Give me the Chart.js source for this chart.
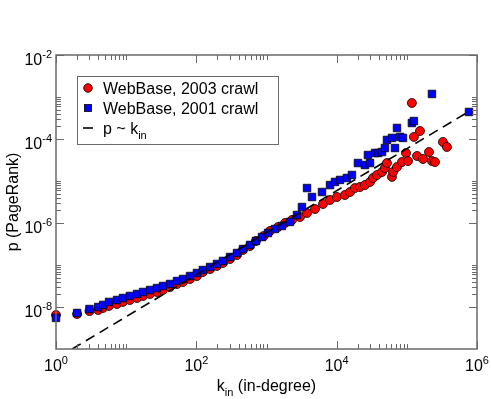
<!DOCTYPE html>
<html>
<head>
<meta charset="utf-8">
<script src="https://cdn.jsdelivr.net/npm/chart.js@4.4.1/dist/chart.umd.min.js"></script>
<style>
  html, body { margin: 0; padding: 0; background: #fff; }
  canvas { display: block; }
</style>
</head>
<body>
<canvas id="chart" width="491" height="399"></canvas>
<script>
// WebBase 2003 crawl (red circles)
const k2003 = [1, 2, 3, 4, 4.7, 5.7, 7.4, 9, 11.3, 14.3, 17.4, 21.9, 27.5, 33.5, 42.2,
  53, 64.6, 81.3, 102, 124, 157, 197, 240, 302, 380, 462, 582, 708, 912, 1120,
  1460, 1840, 2310, 3000, 3780, 4910, 6380, 8040, 10100, 13100, 15500, 18200, 21500, 25300, 29900,
  33000, 37600, 44300, 48800, 52100, 61400, 63500, 72400, 85300, 97200, 104000, 118000, 126000, 154000, 140000,
  170000, 207000, 228000, 252000, 327000, 373000];
const p2003 = [6.45e-9, 6.8e-9, 8.0e-9, 8.5e-9, 9.5e-9, 1.06e-8, 1.18e-8, 1.32e-8, 1.47e-8, 1.64e-8, 1.83e-8, 2.04e-8, 2.28e-8, 2.54e-8, 2.99e-8,
  3.53e-8, 3.94e-8, 4.64e-8, 5.47e-8, 6.8e-8, 8.0e-8, 9.5e-8, 1.12e-7, 1.39e-7, 1.73e-7, 2.28e-7, 2.83e-7, 3.73e-7, 4.9e-7, 6.45e-7,
  8.0e-7, 1.0e-6, 1.18e-6, 1.39e-6, 1.73e-6, 2.15e-6, 2.83e-6, 3.53e-6, 4.16e-6, 4.64e-6, 5.47e-6, 6.8e-6, 7.2e-6, 8.0e-6, 9.5e-6,
  1.18e-5, 1.39e-5, 1.64e-5, 2.04e-5, 2.68e-5, 1.25e-5, 1.64e-5, 2.15e-5, 2.83e-5, 4.64e-5, 2.99e-5, 7.2e-4, 1.12e-4, 1.55e-4, 3.94e-5,
  3.34e-5, 4.9e-5, 2.99e-5, 2.83e-5, 8.5e-5, 6.45e-5];

// WebBase 2001 crawl (blue squares)
const k2001 = [1, 2, 3, 4, 4.7, 5.7, 7.4, 9, 11.3, 14.3, 17.4, 21.9, 27.5, 33.5, 42.2,
  53, 64.6, 81.3, 102, 124, 157, 197, 240, 302, 380, 462, 582, 708, 863, 1050,
  1320, 1660, 2160, 2720, 3200, 3780, 4450, 6180, 8040, 9460, 11150, 14000, 16500, 20100, 25300,
  29900, 27900, 35200, 38800, 44300, 48800, 52100, 61400, 67800, 72400, 79900, 88100, 118000, 126000, 228000,
  769000];
const p2001 = [5.5e-9, 7.2e-9, 8.95e-9, 1.0e-8, 1.12e-8, 1.32e-8, 1.47e-8, 1.64e-8, 1.83e-8, 2.04e-8, 2.28e-8, 2.54e-8, 2.83e-8, 3.16e-8, 3.53e-8,
  4.16e-8, 4.64e-8, 5.47e-8, 6.45e-8, 7.6e-8, 8.96e-8, 1.06e-7, 1.25e-7, 1.55e-7, 1.93e-7, 2.4e-7, 3.0e-7, 3.73e-7, 4.64e-7, 5.78e-7,
  7.2e-7, 8.5e-7, 1.06e-6, 1.55e-6, 2.4e-6, 6.8e-6, 4.16e-6, 5.47e-6, 8.0e-6, 9.5e-6, 1.06e-5, 1.18e-5, 1.39e-5, 2.68e-5, 2.4e-5,
  2.68e-5, 4.16e-5, 4.64e-5, 4.64e-5, 4.9e-5, 6.1e-5, 9.5e-5, 1.06e-4, 6.1e-5, 1.83e-4, 1.12e-4, 1.06e-4, 2.4e-4, 2.68e-4, 1.18e-3,
  4.4e-4];

// p ~ k_in reference line (two end points)
const kLine = [1.7, 760000];
const pLine = [1.0e-9, 4.48e-4];

// axis ticks
const xTickExps = [0, 2, 4, 6];
const yTickExps = [-8, -6, -4, -2];
const minorSteps = [2, 3, 4, 5, 6, 7, 8, 9, 10];

const legendLabels = ["WebBase, 2003 crawl", "WebBase, 2001 crawl", "p ~ k"];

const FONT = '"Liberation Sans", Arial, Helvetica, sans-serif';
const AXIS_GRAY = "#6a6a6a";

function toPoints(ks, ps) {
  return ks.map((k, i) => ({ x: k, y: ps[i] }));
}

// "10" with a superscript exponent
function drawPow(ctx, x, baseY, exp, align) {
  const ex = String(exp);
  ctx.font = "16px " + FONT;
  const wBase = ctx.measureText("10").width;
  ctx.font = "11px " + FONT;
  const wExp = ctx.measureText(ex).width;
  const left = align === "center" ? x - (wBase + wExp) / 2 : x - wBase - wExp;
  ctx.textAlign = "left";
  ctx.textBaseline = "alphabetic";
  ctx.font = "16px " + FONT;
  ctx.fillText("10", left, baseY);
  ctx.font = "11px " + FONT;
  ctx.fillText(ex, left + wBase, baseY - 7);
}

const gracePlugin = {
  id: "grace",
  afterDraw(chart) {
    const { ctx, chartArea: a, scales: { x, y } } = chart;
    ctx.save();
    ctx.strokeStyle = AXIS_GRAY;
    ctx.lineWidth = 1;
    ctx.beginPath();
    xTickExps.forEach((e, i) => {
      const px = Math.round(x.getPixelForValue(Math.pow(10, e))) + 0.5;
      ctx.moveTo(px, a.bottom); ctx.lineTo(px, a.bottom - 8);
      ctx.moveTo(px, a.top); ctx.lineTo(px, a.top + 8);
      if (i < xTickExps.length - 1) {
        minorSteps.forEach(m => {
          const mx = Math.round(x.getPixelForValue(m * Math.pow(10, e))) + 0.5;
          ctx.moveTo(mx, a.bottom); ctx.lineTo(mx, a.bottom - 5);
          ctx.moveTo(mx, a.top); ctx.lineTo(mx, a.top + 5);
        });
      }
    });
    yTickExps.forEach((e, i) => {
      const py = Math.round(y.getPixelForValue(Math.pow(10, e))) + 0.5;
      ctx.moveTo(a.left, py); ctx.lineTo(a.left + 8, py);
      ctx.moveTo(a.right, py); ctx.lineTo(a.right - 8, py);
      if (i < yTickExps.length - 1) {
        minorSteps.forEach(m => {
          const my = Math.round(y.getPixelForValue(m * Math.pow(10, e))) + 0.5;
          ctx.moveTo(a.left, my); ctx.lineTo(a.left + 5, my);
          ctx.moveTo(a.right, my); ctx.lineTo(a.right - 5, my);
        });
      }
    });
    ctx.stroke();

    ctx.lineWidth = 1.5;
    ctx.strokeRect(a.left, a.top, a.right - a.left, a.bottom - a.top);

    // tick labels
    ctx.fillStyle = "#000";
    xTickExps.forEach(e => drawPow(ctx, x.getPixelForValue(Math.pow(10, e)), a.bottom + 22, e, "center"));
    yTickExps.forEach(e => drawPow(ctx, a.left - 4, y.getPixelForValue(Math.pow(10, e)) + 10, e, "right"));

    // x title: k_in (in-degree)
    ctx.font = "16px " + FONT;
    const wk = ctx.measureText("k").width;
    const wRest = ctx.measureText(" (in-degree)").width;
    ctx.font = "11px " + FONT;
    const wSub = ctx.measureText("in").width;
    let tx = (a.left + a.right) / 2 - (wk + wSub + wRest) / 2;
    ctx.textAlign = "left";
    ctx.font = "16px " + FONT;
    ctx.fillText("k", tx, 391);
    ctx.font = "11px " + FONT;
    ctx.fillText("in", tx + wk, 396);
    ctx.font = "16px " + FONT;
    ctx.fillText(" (in-degree)", tx + wk + wSub, 391);

    // y title
    ctx.save();
    ctx.translate(18, (a.top + a.bottom) / 2);
    ctx.rotate(-Math.PI / 2);
    ctx.textAlign = "center";
    ctx.fillText("p (PageRank)", 0, 0);
    ctx.restore();

    // legend
    ctx.fillStyle = "#fff";
    ctx.fillRect(77, 76, 201, 68);
    ctx.strokeStyle = AXIS_GRAY;
    ctx.lineWidth = 1;
    ctx.strokeRect(77.5, 76.5, 201, 68);

    ctx.lineWidth = 0.8;
    ctx.strokeStyle = "#000";
    ctx.fillStyle = "#ff0000";
    ctx.beginPath(); ctx.arc(88, 88, 4.3, 0, Math.PI * 2); ctx.fill(); ctx.stroke();
    ctx.fillStyle = "#0000ff";
    ctx.fillRect(84.5, 104.5, 7, 7); ctx.strokeRect(84.5, 104.5, 7, 7);
    ctx.lineWidth = 1.6;
    ctx.beginPath(); ctx.moveTo(83, 128); ctx.lineTo(93, 128); ctx.stroke();

    ctx.fillStyle = "#000";
    ctx.textBaseline = "alphabetic";
    ctx.font = "16px " + FONT;
    ctx.fillText(legendLabels[0], 103, 94);
    ctx.fillText(legendLabels[1], 103, 114);
    ctx.fillText(legendLabels[2], 103, 134);
    const wp = ctx.measureText(legendLabels[2]).width;
    ctx.font = "11px " + FONT;
    ctx.fillText("in", 103 + wp, 139);
    ctx.restore();
  }
};

new Chart(document.getElementById("chart"), {
  type: "scatter",
  data: {
    datasets: [
      {
        label: legendLabels[0],
        data: toPoints(k2003, p2003),
        pointStyle: "circle",
        pointRadius: 4.5,
        backgroundColor: "#ff0000",
        borderColor: "#000",
        borderWidth: 0.8,
        clip: false,
        order: 2
      },
      {
        label: legendLabels[1],
        data: toPoints(k2001, p2001),
        pointStyle: "rect",
        pointRadius: 5.3,
        backgroundColor: "#0000ff",
        borderColor: "#000",
        borderWidth: 0.8,
        clip: false,
        order: 1
      },
      {
        type: "line",
        label: legendLabels[2],
        data: toPoints(kLine, pLine),
        borderColor: "#000",
        borderWidth: 1.6,
        borderDash: [10, 6],
        pointRadius: 0,
        fill: false,
        order: 0
      }
    ]
  },
  options: {
    responsive: false,
    animation: false,
    devicePixelRatio: 1,
    layout: { padding: { left: 56, top: 55, right: 14, bottom: 50 } },
    scales: {
      x: { type: "logarithmic", min: 1, max: 1e6, display: false },
      y: { type: "logarithmic", min: 1e-9, max: 1e-2, display: false }
    },
    plugins: {
      legend: { display: false },
      tooltip: { enabled: false }
    }
  },
  plugins: [gracePlugin]
});
</script>
</body>
</html>
